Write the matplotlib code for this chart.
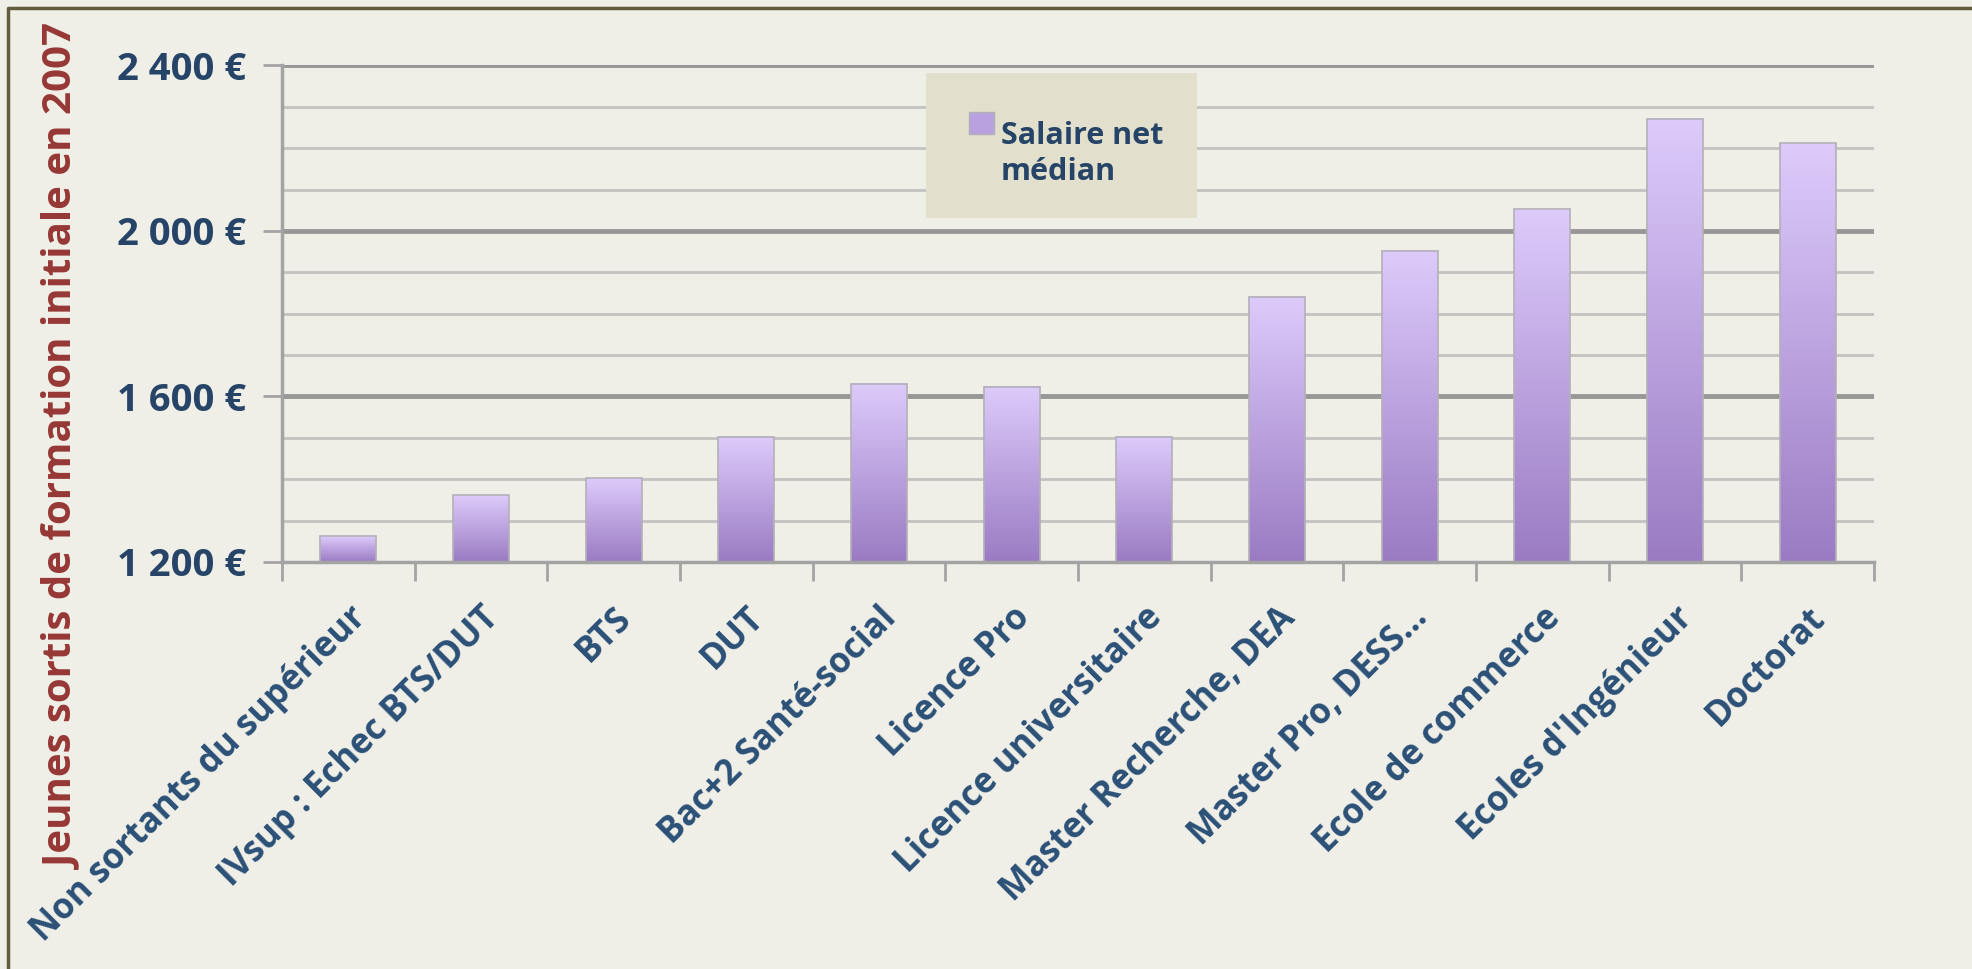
import numpy as np
import matplotlib
matplotlib.use("Agg")
from matplotlib import pyplot as plt
from matplotlib.lines import Line2D
from matplotlib.patches import Rectangle

categories = ["Non sortants du supérieur", "IVsup : Echec BTS/DUT", "BTS", "DUT",
              "Bac+2 Santé-social", "Licence Pro", "Licence universitaire",
              "Master Recherche, DEA", "Master Pro, DESS…", "Ecole de commerce",
              "Ecoles d'Ingénieur", "Doctorat"]
salaires = [1262, 1361, 1402, 1503, 1631, 1624, 1503, 1841, 1952, 2052, 2271, 2212]
yticks = [1200, 1600, 2000, 2400]
yticklabels = ["1 200 €", "1 600 €", "2 000 €", "2 400 €"]
legend_label = "Salaire net\nmédian"
ylabel = "Jeunes sortis de formation initiale en 2007"

bg = "#F0EFE7"
blue = "#264467"
red = "#953735"
font = "Open Sans"

W, H = 1972, 969
fig = plt.figure(figsize=(W / 100, H / 100), dpi=100, facecolor=bg)
ax = fig.add_axes([282 / W, 1 - 562 / H, (1874 - 282) / W, (562 - 65.5) / H])
ax.set_facecolor(bg)

# grid lines: light every 100, darker every 400
for v in range(1300, 2400, 100):
    if v % 400 != 0:
        ax.axhline(v, color="#C2C2C0", lw=2, zorder=0)
for v in [1600, 2000, 2400]:
    ax.axhline(v, color="#979797", lw=3.5, zorder=0)

# bars with vertical gradient
grad = np.linspace(0, 1, 256).reshape(-1, 1)
cmap = matplotlib.colors.LinearSegmentedColormap.from_list("g", ["#9A7BC3", "#DDCBFB"])
bars = ax.bar(range(len(categories)), [s - 1200 for s in salaires], width=0.42, bottom=1200,
              color="none", edgecolor="#B3B0B8", lw=1.2, zorder=3)
for b in bars:
    x0, y0, w, h = b.get_x(), b.get_y(), b.get_width(), b.get_height()
    ax.imshow(grad, cmap=cmap, aspect="auto", origin="lower",
              extent=[x0, x0 + w, y0, y0 + h], zorder=2, interpolation="bilinear")
ax.set_xlim(-0.5, len(categories) - 0.5)
ax.set_ylim(1200, 2400)

for s in ["top", "right"]:
    ax.spines[s].set_visible(False)
for s in ["left", "bottom"]:
    ax.spines[s].set_color("#A3A3A3")
    ax.spines[s].set_linewidth(2.5)
    ax.spines[s].set_zorder(4)

ax.set_yticks(yticks)
ax.set_yticklabels(yticklabels, fontsize=27.5, fontweight="bold", color=blue, family=font)
ax.tick_params(axis="y", length=14, width=2, color="#A3A3A3", pad=12)
ax.set_xticks(np.arange(-0.5, len(categories) + 0.5, 1))
ax.set_xticklabels([])
ax.tick_params(axis="x", length=14, width=2, color="#A3A3A3")

# category labels rotated 45°
for i, c in enumerate(categories):
    ax.annotate(c, xy=(i, 1200), xytext=(0, -38), textcoords="offset pixels",
                rotation=45, rotation_mode="anchor", ha="right", va="top",
                fontsize=25, fontweight="bold", color="#2B5077", family=font)

fig.text(63 / W, 1 - 447 / H, ylabel, rotation=90, ha="center", va="center",
         fontsize=29, fontweight="bold", color=red, family=font)

# legend box
fig.patches.append(Rectangle((926 / W, 1 - 218 / H), (1197 - 926) / W, (218 - 72.7) / H,
                             transform=fig.transFigure, facecolor="#E2DFCD", edgecolor="none", zorder=5))
fig.patches.append(Rectangle((969 / W, 1 - 134 / H), 25 / W, 22 / H,
                             transform=fig.transFigure, facecolor="#B9A0DE", edgecolor="#B3B0B8",
                             lw=1, zorder=6))
fig.text(1001 / W, 1 - 180 / H, legend_label, ha="left", va="baseline", fontsize=22,
         fontweight="bold", color=blue, family=font, linespacing=1.25, zorder=7)

# outer frame (left and top edges)
fig.add_artist(Line2D([8 / W, 8 / W, 1.0], [0, 1 - 8 / H, 1 - 8 / H], transform=fig.transFigure,
                      color="#625C3E", lw=2.5))

fig.savefig("out.png", dpi=100, facecolor=bg)
